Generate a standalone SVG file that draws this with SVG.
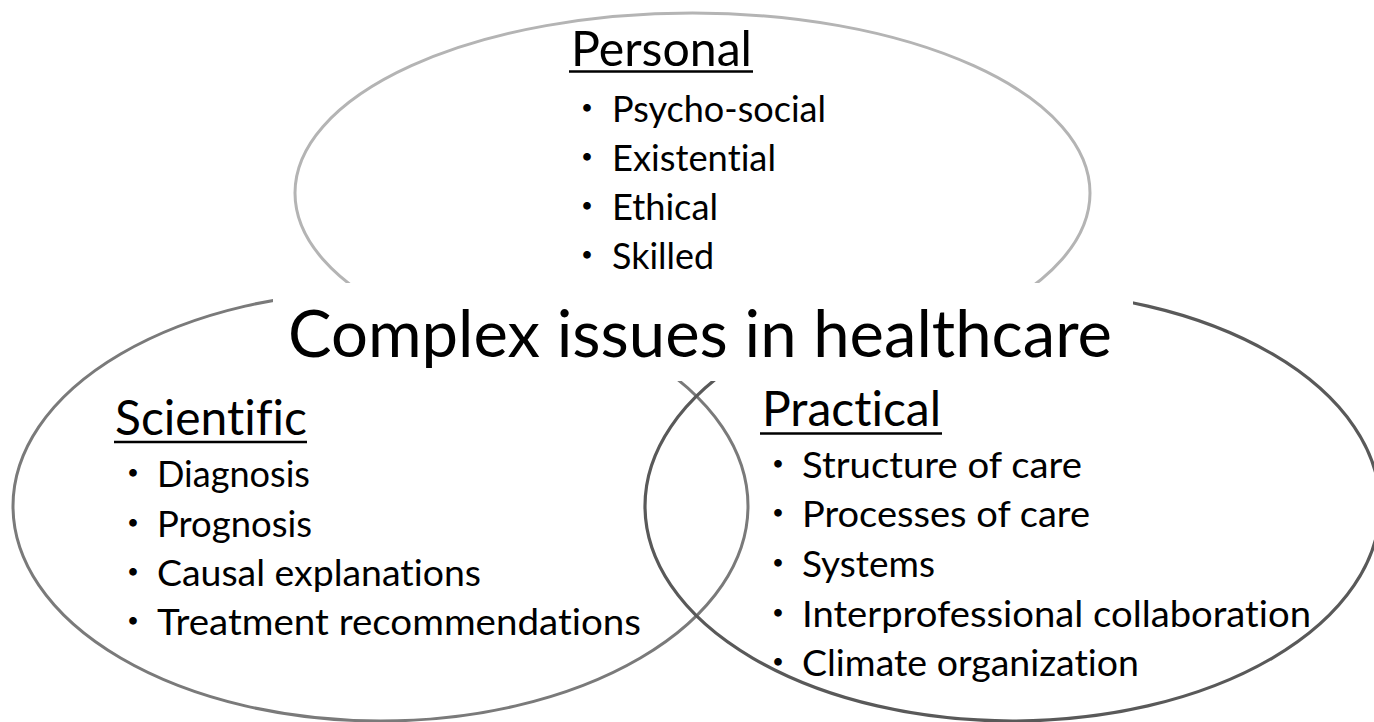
<svg xmlns="http://www.w3.org/2000/svg" width="1374" height="722" viewBox="0 0 1374 722">
<style>
  .ell { fill: none; }
  .t { font-family: Lato, "Noto Sans", "Liberation Sans", sans-serif; fill: #000; font-variant-ligatures: none; font-feature-settings: "liga" 0, "clig" 0, "dlig" 0; }
  .title { font-size: 65px; }
  .head { font-size: 48px; }
  .item { font-size: 36px; }
  .dot { font-family: "Noto Sans CJK JP", sans-serif; }
  .ul { stroke: #000; stroke-width: 2.5; }
</style>
<rect width="1374" height="722" fill="#fff"/>
<g id="personal">
  <ellipse class="ell" cx="692.5" cy="193" rx="397.5" ry="180" stroke="#b4b4b4" stroke-width="3"/>
  <text class="t head" x="571" y="66" textLength="181" lengthAdjust="spacingAndGlyphs">Personal</text>
  <line class="ul" x1="569" y1="71.5" x2="753" y2="71.5"/>
  <text class="t item" y="122"><tspan class="dot" x="569">・</tspan><tspan x="612" textLength="214" lengthAdjust="spacingAndGlyphs">Psycho-social</tspan></text>
  <text class="t item" y="171"><tspan class="dot" x="569">・</tspan><tspan x="612" textLength="164" lengthAdjust="spacingAndGlyphs">Existential</tspan></text>
  <text class="t item" y="220"><tspan class="dot" x="569">・</tspan><tspan x="612" textLength="106" lengthAdjust="spacingAndGlyphs">Ethical</tspan></text>
  <text class="t item" y="269"><tspan class="dot" x="569">・</tspan><tspan x="612" textLength="102" lengthAdjust="spacingAndGlyphs">Skilled</tspan></text>
</g>
<g id="scientific">
  <ellipse class="ell" cx="380.5" cy="506" rx="367.5" ry="215" stroke="#7a7a7a" stroke-width="3"/>
  <text class="t head" x="115" y="435" textLength="192" lengthAdjust="spacingAndGlyphs">Scientific</text>
  <line class="ul" x1="114" y1="442" x2="307" y2="442"/>
  <text class="t item" y="487"><tspan class="dot" x="115">・</tspan><tspan x="157" textLength="153" lengthAdjust="spacingAndGlyphs">Diagnosis</tspan></text>
  <text class="t item" y="537"><tspan class="dot" x="115">・</tspan><tspan x="157" textLength="155" lengthAdjust="spacingAndGlyphs">Prognosis</tspan></text>
  <text class="t item" y="586"><tspan class="dot" x="115">・</tspan><tspan x="157" textLength="324" lengthAdjust="spacingAndGlyphs">Causal explanations</tspan></text>
  <text class="t item" y="635"><tspan class="dot" x="115">・</tspan><tspan x="157" textLength="484" lengthAdjust="spacingAndGlyphs">Treatment recommendations</tspan></text>
</g>
<g id="practical">
  <ellipse class="ell" cx="1012.5" cy="506" rx="367.5" ry="215" stroke="#595959" stroke-width="3.2"/>
  <text class="t head" x="762" y="426" textLength="179" lengthAdjust="spacingAndGlyphs">Practical</text>
  <line class="ul" x1="760" y1="433.5" x2="942" y2="433.5"/>
  <text class="t item" y="478"><tspan class="dot" x="760">・</tspan><tspan x="802" textLength="280" lengthAdjust="spacingAndGlyphs">Structure of care</tspan></text>
  <text class="t item" y="527"><tspan class="dot" x="760">・</tspan><tspan x="802" textLength="288" lengthAdjust="spacingAndGlyphs">Processes of care</tspan></text>
  <text class="t item" y="577"><tspan class="dot" x="760">・</tspan><tspan x="802" textLength="133" lengthAdjust="spacingAndGlyphs">Systems</tspan></text>
  <text class="t item" y="627"><tspan class="dot" x="760">・</tspan><tspan x="802" textLength="509" lengthAdjust="spacingAndGlyphs">Interprofessional collaboration</tspan></text>
  <text class="t item" y="676"><tspan class="dot" x="760">・</tspan><tspan x="802" textLength="337" lengthAdjust="spacingAndGlyphs">Climate organization</tspan></text>
</g>
<g id="connectors"></g>
<g id="title">
  <rect x="273" y="283" width="860" height="98" fill="#fff"/>
  <text class="t title" x="288" y="357" textLength="824" lengthAdjust="spacingAndGlyphs">Complex issues in healthcare</text>
</g>
</svg>
